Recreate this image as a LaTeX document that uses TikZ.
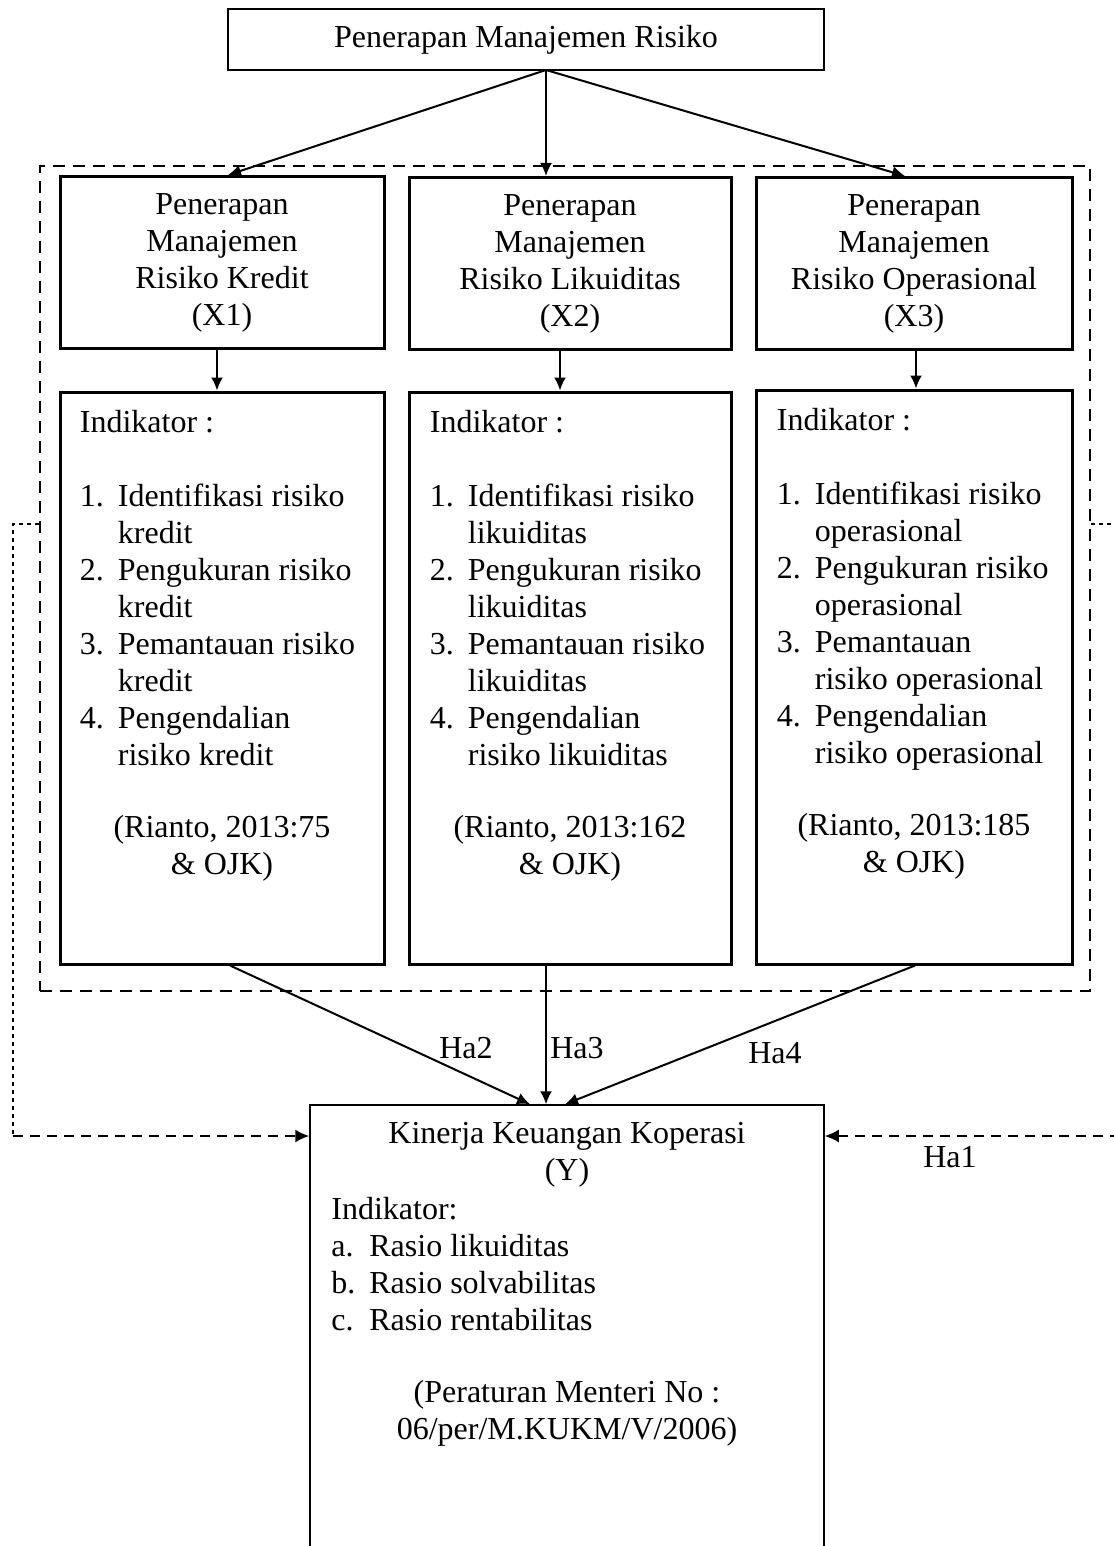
\documentclass[tikz,border=0pt]{standalone}
\usepackage{fontspec}
\setmainfont{Liberation Serif}
\usetikzlibrary{arrows.meta}
\tikzset{
  every node/.style={font=\fontsize{16}{18.5}\selectfont},
  thinbox/.style={draw, line width=0.75pt, inner sep=0},
  varbox/.style={draw, line width=1.5pt, inner sep=0, align=center, minimum height=86pt},
  indbox/.style={draw, line width=1.5pt, inner sep=0},
  txt/.style={inner sep=0, anchor=north west},
  link/.style={-{Latex[length=6.5pt,width=6pt]}, line width=1pt},
  back/.style={-{Latex[length=7pt,width=6.5pt]}, line width=1pt, dash pattern=on 5pt off 3.5pt},
  backup/.style={line width=0.6pt, dash pattern=on 2pt off 2pt}
}
\begin{document}
\begin{tikzpicture}[x=0.5pt,y=-0.5pt]
\useasboundingbox (0,0) rectangle (1113,1546);
\node[thinbox, minimum width=298pt, minimum height=30.5pt](TB)at(526,39.5){\raisebox{-1.5pt}{Penerapan Manajemen Risiko}};
\node[draw, line width=1pt, dash pattern=on 6pt off 4pt, minimum width=525pt, minimum height=412.5pt](G)at(565,578.5){};
% variabel X
\node[varbox, minimum width=162pt](X1)at(222,262.5){Penerapan\\Manajemen\\Risiko Kredit\\(X1)};
\node[varbox, minimum width=161pt](X2)at(570,263.5){Penerapan\\Manajemen\\Risiko Likuiditas\\(X2)};
\node[varbox, minimum width=158pt](X3)at(914,263.5){Penerapan\\Manajemen\\Risiko Operasional\\(X3)};
% indikator
\node[indbox, minimum width=162pt, minimum height=286pt](I1)at(222,678){};
\node[indbox, minimum width=161pt, minimum height=286pt](I2)at(570,678){};
\node[indbox, minimum width=158pt, minimum height=287pt](I3)at(914,677){};
\node[txt](T1)at([shift={(10.5pt,-8pt)}]I1.north west){\begin{tabular}{@{}p{19pt}@{}l@{}}
\multicolumn{2}{@{}l@{}}{Indikator :}\\[18.5pt]
1. & Identifikasi risiko\\
   & kredit\\
2. & Pengukuran risiko\\
   & kredit\\
3. & Pemantauan risiko\\
   & kredit\\
4. & Pengendalian\\
   & risiko kredit
\end{tabular}};
\node[txt](T2)at([shift={(11pt,-8pt)}]I2.north west){\begin{tabular}{@{}p{19pt}@{}l@{}}
\multicolumn{2}{@{}l@{}}{Indikator :}\\[18.5pt]
1. & Identifikasi risiko\\
   & likuiditas\\
2. & Pengukuran risiko\\
   & likuiditas\\
3. & Pemantauan risiko\\
   & likuiditas\\
4. & Pengendalian\\
   & risiko likuiditas
\end{tabular}};
\node[txt](T3)at([shift={(11pt,-8pt)}]I3.north west){\begin{tabular}{@{}p{19pt}@{}l@{}}
\multicolumn{2}{@{}l@{}}{Indikator :}\\[18.5pt]
1. & Identifikasi risiko\\
   & operasional\\
2. & Pengukuran risiko\\
   & operasional\\
3. & Pemantauan\\
   & risiko operasional\\
4. & Pengendalian\\
   & risiko operasional
\end{tabular}};
\node[align=center, inner sep=0](R1)at(222,848){(Rianto, 2013:75\\\& OJK)};
\node[align=center, inner sep=0](R2)at(570,848){(Rianto, 2013:162\\\& OJK)};
\node[align=center, inner sep=0](R3)at(914,846){(Rianto, 2013:185\\\& OJK)};
% variabel Y
\node[thinbox, minimum width=257pt, minimum height=222.5pt](Y)at(567,1327.5){};
\node[align=center, inner sep=0](TY)at(567,1155){Kinerja Keuangan Koperasi\\(Y)};
\node[txt](LY)at(331,1193){\begin{tabular}{@{}p{19pt}@{}l@{}}
\multicolumn{2}{@{}l@{}}{Indikator:}\\
a. & Rasio likuiditas\\
b. & Rasio solvabilitas\\
c. & Rasio rentabilitas
\end{tabular}};
\node[align=center, inner sep=0](PY)at(567,1413){(Peraturan Menteri No :\\06/per/M.KUKM/V/2006)};
% panah
\coordinate(s)at(546,70);
\draw[link](s)--([xshift=3pt]X1.north);
\draw[link](s)--(s |- X2.north);
\draw[link](s)--([xshift=-4.5pt]X3.north);
\draw[link]([xshift=-2.5pt]X1.south)--([xshift=-2.5pt]I1.north);
\draw[link]([xshift=-5pt]X2.south)--([xshift=-5pt]I2.north);
\draw[link]([xshift=1pt]X3.south)--([xshift=1pt]I3.north);
\draw[link]([xshift=4pt]I1.south)--([xshift=-18.5pt]Y.north);
\node(H2)at(466,1048){Ha2};
\draw[link](s |- I2.south)--(s |- Y.north);
\node(H3)at(577,1048){Ha3};
\draw[link]([xshift=0.5pt]I3.south)--([xshift=-1pt]Y.north);
\node(H4)at(775,1053){Ha4};
% hubungan simultan
\coordinate(L1)at(13,524);
\coordinate(L2)at(13,1136);
\coordinate(R1)at(1120,524);
\coordinate(R2)at(1120,1136);
\draw[backup](G.west |- L1)--(L1)--(L2);
\draw[back](L2)--(Y.west |- L2);
\draw[backup](G.east |- R1)--(R1)--(R2);
\draw[back](R2)--(Y.east |- R2);
\node(H1)at(950,1157){Ha1};
\end{tikzpicture}
\end{document}
